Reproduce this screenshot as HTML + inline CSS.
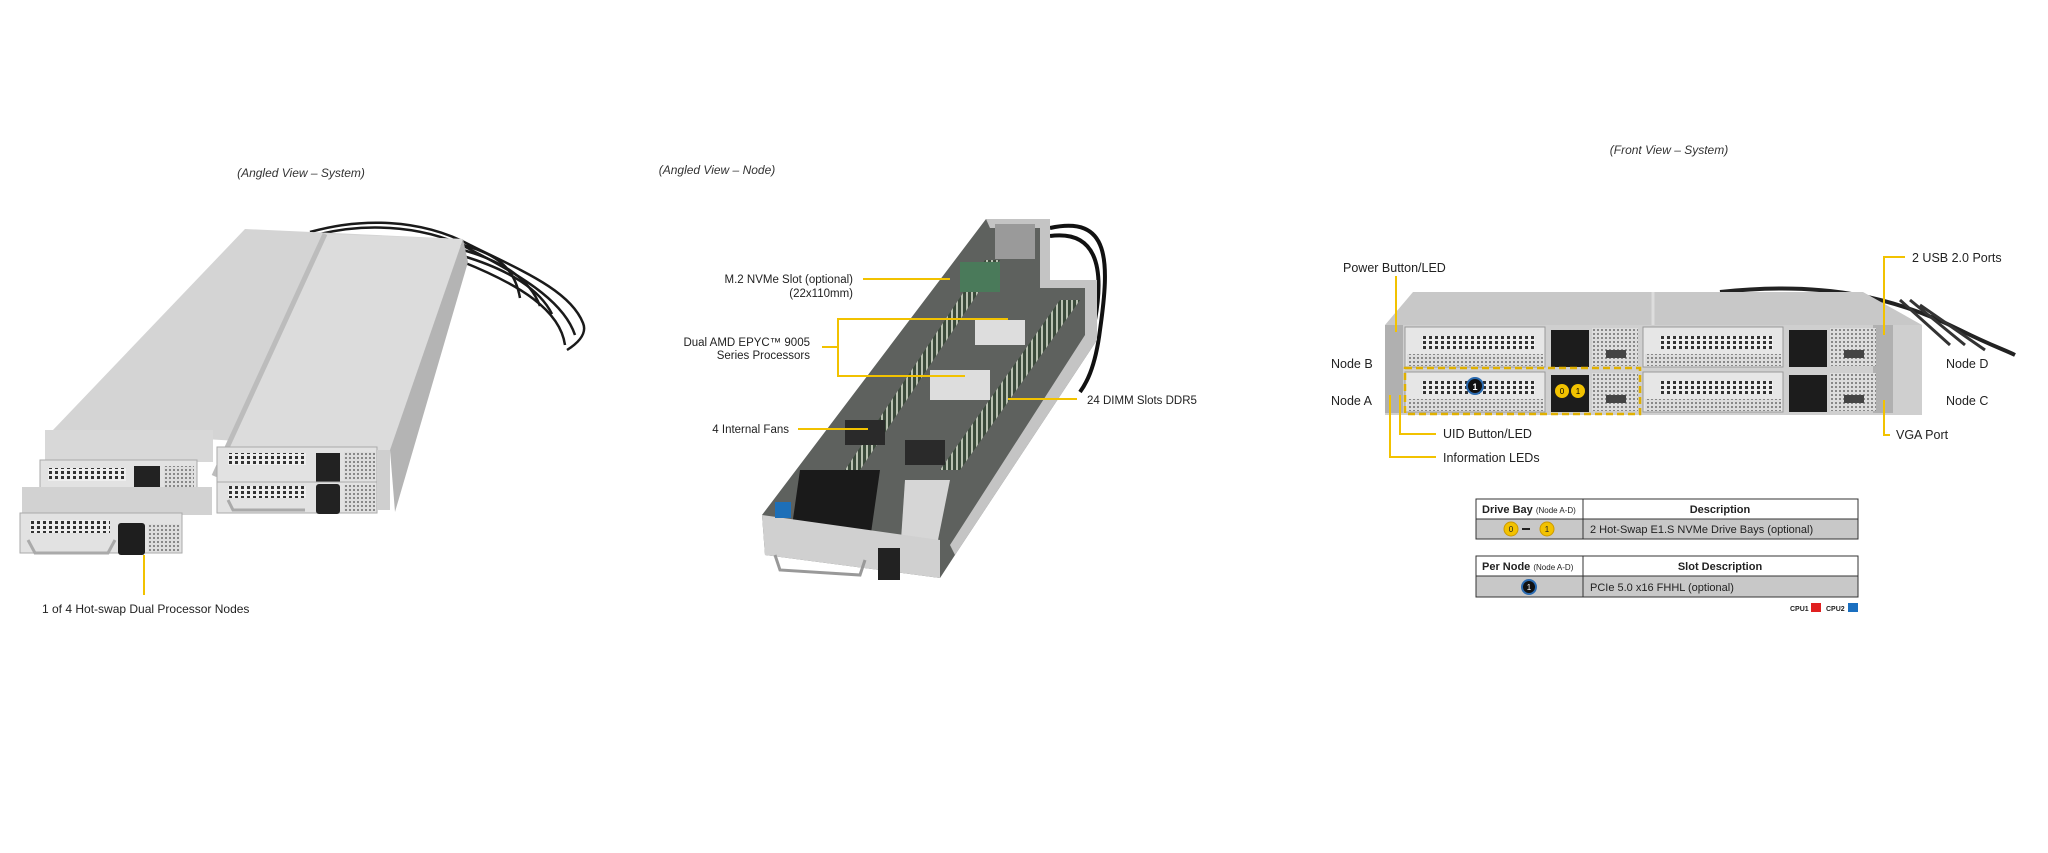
<!DOCTYPE html>
<html><head><meta charset="utf-8"><style>
html,body{margin:0;padding:0;background:#fff;}
svg{display:block;font-family:"Liberation Sans",Arial,sans-serif;}
</style></head><body>
<svg width="2048" height="853" viewBox="0 0 2048 853" xmlns="http://www.w3.org/2000/svg">
<defs>
<pattern id="holes" width="6" height="5" patternUnits="userSpaceOnUse"><rect width="6" height="5" fill="#eee"/><rect x="1" y="1" width="3" height="3" fill="#333"/></pattern>
<pattern id="mesh" width="4" height="4" patternUnits="userSpaceOnUse"><rect width="4" height="4" fill="#ddd"/><rect x="1" y="1" width="2" height="2" fill="#888"/></pattern>
<pattern id="dimm" width="5" height="8" patternUnits="userSpaceOnUse"><rect width="5" height="8" fill="#3a4a3a"/><rect x="1" width="2" height="8" fill="#b8c0b0"/></pattern>
</defs>

<g font-style="italic" font-size="12" fill="#333" text-anchor="middle">
<text x="301" y="177">(Angled View – System)</text>
<text x="717" y="174">(Angled View – Node)</text>
<text x="1669" y="154">(Front View – System)</text>
</g>

<!-- LEFT: angled system -->
<g>
<g stroke="#1a1a1a" stroke-width="2.5" fill="none">
<path d="M310 232 C360 218 420 218 470 245 C520 270 570 290 583 323 C588 335 575 345 567 350"/>
<path d="M320 234 C370 222 430 226 475 252 C530 280 565 305 575 335"/>
<path d="M463 245 C500 255 515 270 520 298"/>
<path d="M463 250 C505 262 530 280 540 306"/>
<path d="M463 256 C510 270 540 290 552 314"/>
<path d="M463 262 C520 285 560 310 565 345"/>
</g>
<polygon points="245,229 463,239 390,450 53,430" fill="#d4d4d4"/>
<polygon points="325,234 463,239 390,450 214,476" fill="#dcdcdc"/>
<line x1="325" y1="234" x2="214" y2="476" stroke="#bcbcbc" stroke-width="5"/>
<polygon points="463,239 468,262 395,512 390,450" fill="#b4b4b4"/>
<rect x="45" y="430" width="168" height="32" fill="#d8d8d8"/>
<rect x="40" y="460" width="157" height="37" fill="#e2e2e2" stroke="#aaa"/>
<rect x="48" y="468" width="78" height="13" fill="url(#holes)"/>
<rect x="134" y="466" width="26" height="33" fill="#222"/>
<rect x="164" y="466" width="30" height="30" fill="url(#mesh)"/>
<path d="M50 490 L55 500 L125 500" stroke="#aaa" stroke-width="3" fill="none"/>
<rect x="22" y="487" width="190" height="28" fill="#d2d2d2"/>
<rect x="20" y="513" width="162" height="40" fill="#e2e2e2" stroke="#aaa"/>
<rect x="30" y="520" width="80" height="13" fill="url(#holes)"/>
<rect x="118" y="523" width="27" height="32" rx="3" fill="#1e1e1e"/>
<rect x="148" y="524" width="32" height="28" fill="url(#mesh)"/>
<path d="M28 540 L35 553 L108 553 L115 540" stroke="#aaa" stroke-width="3" fill="none"/>
<rect x="217" y="447" width="160" height="35" fill="#e2e2e2" stroke="#aaa"/>
<rect x="228" y="453" width="78" height="12" fill="url(#holes)"/>
<rect x="316" y="453" width="24" height="30" fill="#222"/>
<rect x="344" y="452" width="31" height="28" fill="url(#mesh)"/>
<rect x="217" y="482" width="160" height="31" fill="#e2e2e2" stroke="#aaa"/>
<rect x="228" y="486" width="78" height="12" fill="url(#holes)"/>
<rect x="316" y="484" width="24" height="30" rx="3" fill="#222"/>
<rect x="344" y="485" width="31" height="26" fill="url(#mesh)"/>
<path d="M228 500 L233 510 L305 510" stroke="#aaa" stroke-width="3" fill="none"/>
<rect x="377" y="450" width="13" height="60" fill="#cfcfcf"/>
<line x1="144" y1="555" x2="144" y2="595" stroke="#f2c200" stroke-width="2"/>
<text x="42" y="613" font-size="12" fill="#222">1 of 4 Hot-swap Dual Processor Nodes</text>
</g>

<!-- MIDDLE: node -->
<g>
<path d="M1050 228 C1110 215 1110 260 1100 330 C1095 370 1085 385 1080 392" stroke="#111" stroke-width="4" fill="none"/>
<path d="M1050 236 C1095 230 1105 265 1095 320 C1085 360 1050 390 1045 398" stroke="#111" stroke-width="4" fill="none"/>
<polygon points="986,219 1050,219 1050,280 1097,280 1097,340 955,555 940,578 765,555 762,515" fill="#5e615e"/>
<polygon points="986,219 1050,219 1050,280 1097,280 1097,340 955,555 950,545 1085,335 1085,288 1040,288 1040,228 990,228" fill="#c4c4c4"/>
<rect x="995" y="224" width="40" height="35" fill="#9a9a9a"/>
<polygon points="985,260 1000,260 860,470 845,470" fill="url(#dimm)"/>
<polygon points="1060,300 1080,300 960,470 940,470" fill="url(#dimm)"/>
<rect x="960" y="262" width="40" height="30" fill="#4a7a5a"/>
<rect x="930" y="370" width="60" height="30" fill="#ddd"/>
<rect x="975" y="320" width="50" height="25" fill="#ddd"/>
<rect x="845" y="420" width="40" height="25" fill="#2a2a2a"/>
<rect x="905" y="440" width="40" height="25" fill="#2a2a2a"/>
<polygon points="800,470 880,470 870,540 790,540" fill="#1a1a1a"/>
<polygon points="905,480 950,480 935,555 900,555" fill="#d6d6d6"/>
<polygon points="762,515 940,540 940,578 765,555" fill="#d0d0d0"/>
<rect x="775" y="502" width="16" height="16" fill="#1d6fb8"/>
<rect x="878" y="548" width="22" height="32" fill="#222"/>
<path d="M775 555 L780 570 L860 575 L865 560" stroke="#999" stroke-width="3" fill="none"/>
</g>
<g font-size="11.5" fill="#222">
<text x="853" y="283" text-anchor="end">M.2 NVMe Slot (optional)</text>
<text x="853" y="297" text-anchor="end">(22x110mm)</text>
<text x="810" y="346" text-anchor="end">Dual AMD EPYC™ 9005</text>
<text x="810" y="359" text-anchor="end">Series Processors</text>
<text x="789" y="433" text-anchor="end">4 Internal Fans</text>
<text x="1087" y="404">24 DIMM Slots DDR5</text>
</g>
<g stroke="#f2c200" stroke-width="2" fill="none">
<line x1="863" y1="279" x2="950" y2="279"/>
<path d="M1008 319 L838 319 L838 376 L965 376"/>
<line x1="822" y1="347" x2="838" y2="347"/>
<line x1="798" y1="429" x2="868" y2="429"/>
<line x1="1008" y1="399" x2="1077" y2="399"/>
</g>

<!-- RIGHT: front view -->
<g>
<path d="M1720 292 C1830 280 1900 300 1960 330 C1990 345 2005 350 2015 355" stroke="#222" stroke-width="4" fill="none"/>
<path d="M1900 300 L1950 345 M1910 300 L1965 345 M1920 305 L1985 350" stroke="#333" stroke-width="3"/>
<polygon points="1385,325 1413,292 1863,292 1922,325" fill="#c8c8c8"/>
<line x1="1653" y1="292" x2="1653" y2="325" stroke="#ddd" stroke-width="3"/>
<rect x="1385" y="325" width="537" height="90" fill="#cfcfcf"/>
<rect x="1385" y="325" width="18" height="88" fill="#b0b0b0"/>
<rect x="1873" y="325" width="20" height="88" fill="#b0b0b0"/>
<g id="nd">
<rect x="1405" y="327" width="140" height="40" fill="#e6e6e6" stroke="#999"/>
<rect x="1422" y="336" width="113" height="13" fill="url(#holes)"/>
<rect x="1407" y="354" width="136" height="12" fill="url(#mesh)"/>
<rect x="1551" y="330" width="38" height="37" fill="#1c1c1c"/>
<rect x="1592" y="328" width="46" height="38" fill="url(#mesh)"/>
<rect x="1606" y="350" width="20" height="8" fill="#444"/>
</g>
<use href="#nd" x="0" y="45"/>
<use href="#nd" x="238" y="0"/>
<use href="#nd" x="238" y="45"/>
<circle cx="1475" cy="386" r="8" fill="#111" stroke="#2a6ab0" stroke-width="2"/>
<text x="1475" y="390" font-size="9" fill="#fff" text-anchor="middle" font-weight="bold">1</text>
<circle cx="1562" cy="391" r="7" fill="#f2c200"/><text x="1562" y="394" font-size="8" text-anchor="middle">0</text>
<circle cx="1578" cy="391" r="7" fill="#f2c200"/><text x="1578" y="394" font-size="8" text-anchor="middle">1</text>
<rect x="1405" y="368" width="235" height="46" fill="none" stroke="#e0b000" stroke-width="2.5" stroke-dasharray="7 4"/>
</g>
<g stroke="#f2c200" stroke-width="2" fill="none">
<line x1="1396" y1="276" x2="1396" y2="332"/>
<path d="M1400 395 L1400 434 L1436 434"/>
<path d="M1390 395 L1390 457 L1436 457"/>
<path d="M1905 257 L1884 257 L1884 335"/>
<path d="M1884 400 L1884 435 L1890 435"/>
</g>
<g font-size="12.5" fill="#222">
<text x="1343" y="272">Power Button/LED</text>
<text x="1331" y="368">Node B</text>
<text x="1331" y="405">Node A</text>
<text x="1443" y="438">UID Button/LED</text>
<text x="1443" y="462">Information LEDs</text>
<text x="1912" y="262">2 USB 2.0 Ports</text>
<text x="1946" y="368">Node D</text>
<text x="1946" y="405">Node C</text>
<text x="1896" y="439">VGA Port</text>
</g>

<g font-size="11" fill="#222">
<rect x="1476" y="499" width="382" height="20" fill="#fff" stroke="#333"/>
<rect x="1476" y="519" width="382" height="20" fill="#c8c8c8" stroke="#333"/>
<line x1="1583" y1="499" x2="1583" y2="539" stroke="#333"/>
<text x="1482" y="513" font-weight="bold">Drive Bay <tspan font-size="8" font-weight="normal">(Node A-D)</tspan></text>
<text x="1720" y="513" font-weight="bold" text-anchor="middle">Description</text>
<circle cx="1511" cy="529" r="7" fill="#f2c200" stroke="#c90"/><text x="1511" y="532" font-size="8" text-anchor="middle">0</text>
<rect x="1522" y="528" width="8" height="2" fill="#222"/>
<circle cx="1547" cy="529" r="7" fill="#f2c200" stroke="#c90"/><text x="1547" y="532" font-size="8" text-anchor="middle">1</text>
<text x="1590" y="533">2 Hot-Swap E1.S NVMe Drive Bays (optional)</text>
<rect x="1476" y="556" width="382" height="20" fill="#fff" stroke="#333"/>
<rect x="1476" y="576" width="382" height="21" fill="#c8c8c8" stroke="#333"/>
<line x1="1583" y1="556" x2="1583" y2="597" stroke="#333"/>
<text x="1482" y="570" font-weight="bold">Per Node <tspan font-size="8" font-weight="normal">(Node A-D)</tspan></text>
<text x="1720" y="570" font-weight="bold" text-anchor="middle">Slot Description</text>
<circle cx="1529" cy="587" r="7" fill="#111" stroke="#2a6ab0" stroke-width="2"/><text x="1529" y="590" font-size="8" fill="#fff" text-anchor="middle">1</text>
<text x="1590" y="591">PCIe 5.0 x16 FHHL (optional)</text>
<text x="1790" y="611" font-size="7" font-weight="bold">CPU1</text>
<rect x="1811" y="603" width="10" height="9" fill="#e02020"/>
<text x="1826" y="611" font-size="7" font-weight="bold">CPU2</text>
<rect x="1848" y="603" width="10" height="9" fill="#1a6fc0"/>
</g>
</svg>
</body></html>
